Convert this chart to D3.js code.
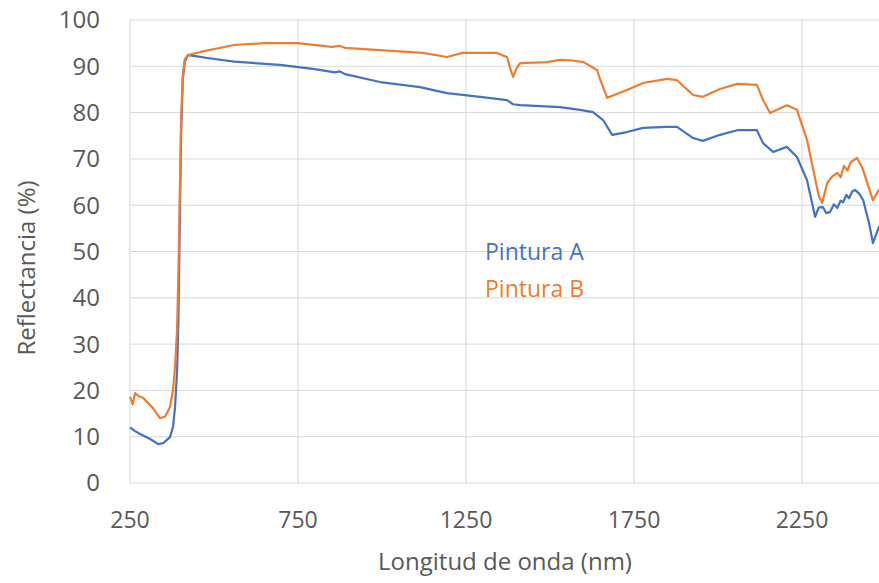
<!DOCTYPE html>
<html>
<head>
<meta charset="utf-8">
<script src="https://cdn.jsdelivr.net/npm/d3@7"></script>
<style>
  body { margin: 0; background: #fff; }
  svg { display: block; font-family: "Open Sans", sans-serif; }
</style>
</head>
<body>
<svg id="chart" width="879" height="583"></svg>
<script>
// values
const xTicks = [250, 750, 1250, 1750, 2250];
const yTicks = [0, 10, 20, 30, 40, 50, 60, 70, 80, 90, 100];

const waveA = [250, 265, 280, 310, 334, 349, 369, 378, 384, 390, 394, 398, 402, 407, 413, 422, 445, 480, 560, 696, 800, 860, 875, 890, 994, 1113, 1193, 1292, 1372, 1390, 1411, 1530, 1589, 1628, 1658, 1685, 1729, 1777, 1848, 1878, 1926, 1955, 2006, 2057, 2116, 2134, 2164, 2205, 2235, 2265, 2289, 2300, 2312, 2322, 2333, 2345, 2355, 2365, 2372, 2382, 2390, 2400, 2408, 2420, 2432, 2450, 2461, 2479, 2500];
const reflA = [12, 11.2, 10.6, 9.5, 8.4, 8.6, 9.9, 12.1, 16.4, 24, 35, 55, 75, 87, 91, 92.4, 92.2, 91.8, 91, 90.3, 89.4, 88.7, 88.9, 88.3, 86.6, 85.5, 84.2, 83.4, 82.7, 81.8, 81.6, 81.2, 80.6, 80.1, 78.4, 75.2, 75.8, 76.7, 76.9, 76.9, 74.5, 73.9, 75.2, 76.2, 76.2, 73.4, 71.5, 72.6, 70.4, 65.4, 57.5, 59.5, 59.6, 58.3, 58.5, 60.2, 59.4, 61, 60.6, 62.2, 61.5, 63, 63.3, 62.5, 61.1, 56, 51.8, 55.3, 57];

const waveB = [250, 258, 265, 275, 289, 318, 339, 354, 369, 378, 384, 390, 394, 398, 402, 407, 413, 422, 460, 520, 560, 650, 750, 850, 875, 890, 994, 1122, 1193, 1240, 1340, 1372, 1384, 1390, 1400, 1411, 1491, 1530, 1560, 1600, 1640, 1650, 1670, 1729, 1777, 1848, 1878, 1926, 1955, 2006, 2057, 2116, 2134, 2155, 2205, 2235, 2265, 2300, 2310, 2325, 2340, 2355, 2365, 2375, 2385, 2395, 2414, 2430, 2461, 2479, 2500];
const reflB = [18.6, 17, 19.4, 18.8, 18.4, 16.2, 14, 14.3, 16.4, 20.1, 25, 33, 45, 62, 78, 88, 91.5, 92.4, 93.1, 94, 94.6, 95, 95, 94.2, 94.4, 94, 93.5, 92.9, 92, 92.9, 92.9, 92, 89, 87.7, 89.5, 90.7, 90.9, 91.4, 91.3, 90.9, 89.2, 87, 83.2, 84.9, 86.4, 87.3, 87, 83.8, 83.4, 85.1, 86.2, 86, 82.7, 79.9, 81.6, 80.6, 74.1, 62, 60.5, 64.8, 66.2, 67, 66, 68.5, 67.5, 69.3, 70.2, 68, 61.1, 63.3, 64];

const seriesNames = ["Pintura A", "Pintura B"];
const colors = ["#4472C4", "#ED7D31"];

const svg = d3.select("#chart");
const x = d3.scaleLinear().domain([250, 2500]).range([130, 886]);
const y = d3.scaleLinear().domain([0, 100]).range([483, 20]);

// grid
svg.append("g").selectAll("line").data(yTicks).join("line")
  .attr("x1", 130).attr("x2", 886)
  .attr("y1", d => y(d)).attr("y2", d => y(d))
  .attr("stroke", "#d9d9d9").attr("stroke-width", 1);
svg.append("g").selectAll("line").data(xTicks).join("line")
  .attr("x1", d => x(d)).attr("x2", d => x(d))
  .attr("y1", y(0)).attr("y2", y(100))
  .attr("stroke", "#d9d9d9").attr("stroke-width", 1);

// tick labels
svg.append("g").selectAll("text").data(yTicks).join("text")
  .attr("x", 100).attr("y", d => y(d)).attr("dy", "0.35em")
  .attr("text-anchor", "end").attr("font-size", 24).attr("fill", "#595959")
  .text(d => d);
svg.append("g").selectAll("text").data(xTicks).join("text")
  .attr("x", d => x(d)).attr("y", 520).attr("dy", "0.35em")
  .attr("text-anchor", "middle").attr("font-size", 23).attr("fill", "#595959")
  .text(d => d);

// axis titles
svg.append("text").attr("x", 505).attr("y", 562).attr("dy", "0.35em")
  .attr("text-anchor", "middle").attr("font-size", 24).attr("fill", "#595959")
  .text("Longitud de onda (nm)");
svg.append("text").attr("transform", "translate(27,268) rotate(-90)").attr("dy", "0.35em")
  .attr("text-anchor", "middle").attr("font-size", 24).attr("fill", "#595959")
  .text("Reflectancia (%)");

// lines
const line = d3.line().x(d => x(d[0])).y(d => y(d[1]));
const series = [d3.zip(waveA, reflA), d3.zip(waveB, reflB)];
svg.append("g").selectAll("path").data(series).join("path")
  .attr("d", line)
  .attr("fill", "none")
  .attr("stroke", (d, i) => colors[i])
  .attr("stroke-width", 2.2)
  .attr("stroke-linejoin", "round");

// legend
svg.append("g").selectAll("text").data(seriesNames).join("text")
  .attr("x", 485).attr("y", (d, i) => 252 + i * 37).attr("dy", "0.35em")
  .attr("font-size", 23).attr("fill", (d, i) => colors[i])
  .text(d => d);
</script>
</body>
</html>
